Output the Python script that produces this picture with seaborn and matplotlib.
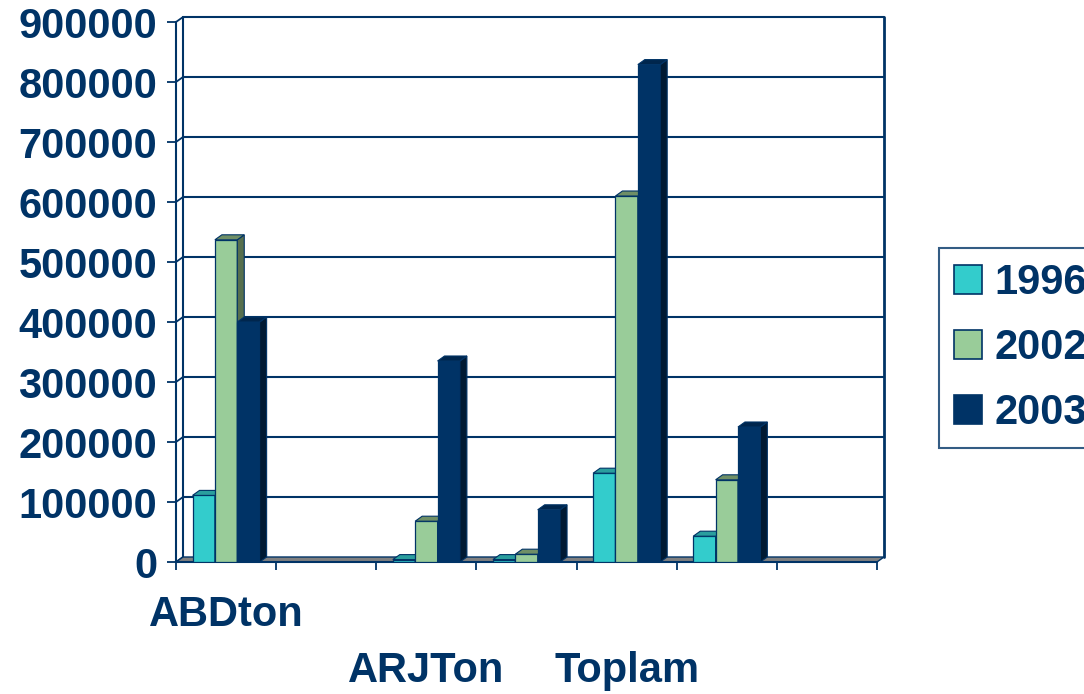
import numpy as np
import pandas as pd
import matplotlib
matplotlib.use("Agg")
import matplotlib.pyplot as plt
import matplotlib.transforms as mtransforms
from matplotlib.patches import Polygon, Patch
from matplotlib.lines import Line2D
import seaborn as sns

# ---- data ----
categories = ["ABDton", "", "ARJTon", "", "Toplam", "", ""]
years = ["1996", "2002", "2003"]
vals_1996 = [111000, 0, 4000, 4000, 148000, 43000, 0]
vals_2002 = [537000, 0, 68000, 13000, 610000, 137000, 0]
vals_2003 = [400000, 0, 335000, 87000, 829000, 225000, 0]
yticks = list(range(0, 900001, 100000))

# ---- style ----
sns.set_theme(style="white")
plt.rcParams["font.family"] = ["Liberation Sans", "DejaVu Sans"]
plt.rcParams["font.weight"] = "bold"
navy = "#003366"
front_cols = ["#33CCCC", "#99CC99", "#003366"]
top_cols = ["#2A9E9E", "#6F8F66", "#00264D"]
side_cols = ["#1F8080", "#566F4E", "#001A33"]
label_row = [0, 0, 1, 0, 1, 0, 0]
DX, DY = 7, 5  # depth offset in pixels

slots = list(range(len(categories)))
df = pd.DataFrame({
    "slot": slots * 3,
    "year": [y for y in years for _ in slots],
    "value": vals_1996 + vals_2002 + vals_2003,
})

fig = plt.figure(figsize=(10.84, 6.94), dpi=100)
ax = fig.add_axes([176 / 1084, 132 / 694, 701 / 1084, 540 / 694])
ax.set_facecolor("none")

sns.barplot(data=df, x="slot", y="value", hue="year", order=slots,
            hue_order=years, palette=front_cols, saturation=1, width=0.67,
            edgecolor=navy, linewidth=0.9, legend=False, ax=ax, errorbar=None)

ax.set_xlim(-0.5, len(slots) - 0.5)
ax.set_ylim(0, 900000)

off = mtransforms.ScaledTranslation(DX / 100, DY / 100, fig.dpi_scale_trans)
tr_back = ax.transData + off
ident = mtransforms.IdentityTransform()

# back wall
x0, x1 = -0.5, len(slots) - 0.5
for v in yticks[1:]:
    ax.plot([x0, x1], [v, v], transform=tr_back, color=navy, lw=1.5,
            zorder=1, clip_on=False)
ax.plot([x0, x0], [0, 900000], transform=tr_back, color=navy, lw=1.5,
        zorder=1, clip_on=False)
ax.plot([x1, x1], [0, 900000], transform=tr_back, color=navy, lw=2,
        zorder=1, clip_on=False)

# connectors from front axis to back wall
for v in yticks:
    px, py = ax.transData.transform((x0, v))
    ax.add_line(Line2D([px, px + DX], [py, py + DY], transform=ident,
                       color=navy, lw=1.3, zorder=1, clip_on=False))

# floor
fl = ax.transData.transform((x0, 0))
fr = ax.transData.transform((x1, 0))
floor = Polygon([fl, fr, fr + [DX, DY], fl + [DX, DY]], closed=True,
                transform=ident, facecolor="#808080", edgecolor=navy,
                lw=1.0, zorder=1.5, clip_on=False)
ax.add_patch(floor)

# 3D faces on bars
for i, cont in enumerate(ax.containers):
    for p in cont.patches:
        p.set_zorder(3 + i * 0.1)
        h = p.get_height()
        if h <= 0:
            p.set_visible(False)
            continue
        bx0, by0 = ax.transData.transform((p.get_x(), 0))
        bx1, by1 = ax.transData.transform((p.get_x() + p.get_width(), h))
        side = Polygon([(bx1, by0), (bx1 + DX, by0 + DY), (bx1 + DX, by1 + DY),
                        (bx1, by1)], closed=True, transform=ident,
                       facecolor=side_cols[i], edgecolor=navy, lw=0.8,
                       zorder=3 + i * 0.1 + 0.05, clip_on=False)
        top = Polygon([(bx0, by1), (bx0 + DX, by1 + DY), (bx1 + DX, by1 + DY),
                       (bx1, by1)], closed=True, transform=ident,
                      facecolor=top_cols[i], edgecolor=navy, lw=0.8,
                      zorder=3 + i * 0.1 + 0.05, clip_on=False)
        ax.add_patch(side)
        ax.add_patch(top)

# spines / axes
for s in ["top", "right"]:
    ax.spines[s].set_visible(False)
ax.spines["left"].set_color(navy)
ax.spines["left"].set_linewidth(1.5)
ax.spines["bottom"].set_color(navy)
ax.spines["bottom"].set_linewidth(1.5)
ax.spines["bottom"].set_zorder(2)

ax.set_yticks(yticks)
ax.set_yticklabels([str(v) for v in yticks])
ax.tick_params(axis="y", left=True, length=6.5, width=1.3, color=navy,
               pad=7, labelsize=30, labelcolor=navy, direction="out")

ax.set_xticks(slots)
ax.set_xticklabels([("\n" if r else "") + c for c, r in zip(categories, label_row)])
ax.tick_params(axis="x", which="major", bottom=False, length=0, pad=24,
               labelsize=30, labelcolor=navy)
ax.set_xticks(np.arange(-0.5, len(slots), 1.0), minor=True)
ax.tick_params(axis="x", which="minor", bottom=True, length=6, width=1.3,
               color=navy, direction="out")
for t in ax.get_xticklabels():
    t.set_linespacing(1.5)
ax.set_xlabel("")
ax.set_ylabel("")
ax.grid(False)

# legend
handles = [Patch(facecolor=c, edgecolor=navy, lw=1.2) for c in front_cols]
leg = fig.legend(handles, years, loc="upper left",
                 bbox_to_anchor=(939 / 1084, 1 - 248 / 694),
                 bbox_transform=fig.transFigure, borderaxespad=0,
                 fontsize=30, handlelength=0.67, handleheight=0.67,
                 handletextpad=0.31, borderpad=0.36, labelspacing=0.6,
                 frameon=True, fancybox=False)
leg.get_frame().set_edgecolor(navy)
leg.get_frame().set_linewidth(1.5)
for t in leg.get_texts():
    t.set_color(navy)
    t.set_fontweight("bold")

fig.savefig("out.png", dpi=100)
